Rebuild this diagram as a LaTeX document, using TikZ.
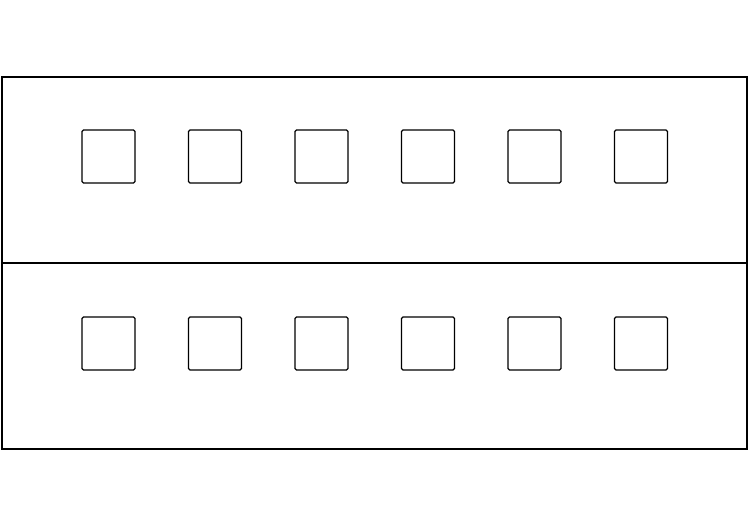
\documentclass[tikz,border=0pt]{standalone}
\begin{document}
\begin{tikzpicture}[x=1pt,y=-1pt,
  panel/.style={draw=black,line width=1.1pt,fill=white},
  win/.style={draw=black,line width=1.1pt,rounded corners=1.5pt,minimum width=53pt,minimum height=53pt,inner sep=0pt,outer sep=0pt}]
\useasboundingbox (0,0) rectangle (750,527);
\fill[white] (0,0) rectangle (750,527);
\draw[panel] (2,77) rectangle (747,263);
\draw[panel] (2,263) rectangle (747,449);
\foreach \i/\x in {1/108.5,2/215,3/321.5,4/428,5/534.5,6/641}{
  \node[win] (t\i) at (\x,156.5) {};
  \node[win] (b\i) at (\x,343.5) {};
}
\end{tikzpicture}
\end{document}
